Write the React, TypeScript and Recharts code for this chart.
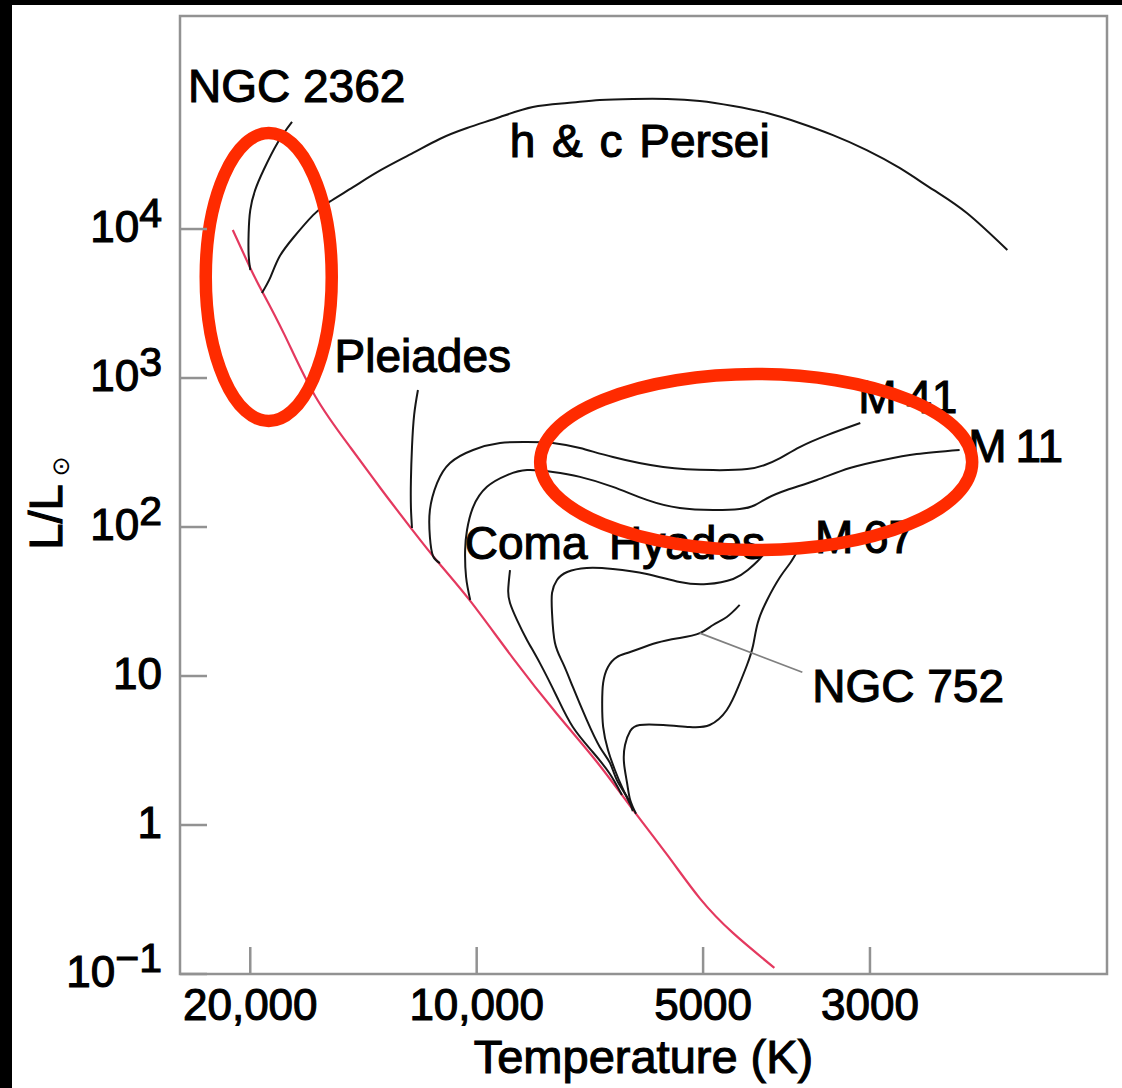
import React from "react";
import { LineChart, Line, XAxis, YAxis, ReferenceArea, ReferenceDot } from "recharts";

// Each point is [surface temperature in K, luminosity in solar units]
type Pt = [number, number];

const MAIN_SEQUENCE: Pt[] = [
  [21100, 9850], [20000, 5470], [19300, 3840], [18000, 1940], [16400, 757],
  [14700, 339], [13400, 180], [12200, 96.9], [11200, 56.4], [10200, 31.9],
  [8950, 13.2], [7820, 5.56], [6920, 2.65], [6250, 1.34], [5580, 0.630],
  [5050, 0.322], [4560, 0.188], [4020, 0.11],
];

const NGC_2362: Pt[] = [
  [20000, 5310], [20100, 6690], [20100, 9400], [20000, 13400], [19700, 18300],
  [19200, 24900], [18400, 37800], [17600, 52300],
];

const H_CHI_PERSEI: Pt[] = [
  [19300, 3720], [18800, 4760], [18300, 6490], [17500, 8840], [16500, 12400],
  [15700, 15200], [14600, 19100], [13400, 24900], [12150, 32400], [11200, 40200],
  [10300, 47600], [9310, 56500], [8420, 65900], [7580, 70100], [6860, 73400],
  [6200, 74600], [5580, 74600], [5050, 72300], [4560, 66900], [4110, 60000],
  [3720, 51500], [3360, 42700], [3030, 33900], [2740, 25700], [2470, 18300],
  [2230, 12800], [1970, 7230],
];

const PLEIADES: Pt[] = [
  [11970, 831], [12110, 565], [12190, 344], [12230, 207], [12230, 136], [12190, 98.5],
];

const M41: Pt[] = [
  [11190, 57.3], [11430, 63.9], [11540, 85.7], [11540, 130], [11290, 197],
  [10850, 269], [10110, 329], [9310, 366], [8570, 372], [7920, 366],
  [7290, 339], [6590, 295], [5650, 253], [4850, 241], [4370, 245],
  [4140, 261], [3950, 290], [3720, 344], [3420, 414], [3090, 499],
];

const M11: Pt[] = [
  [10200, 32.4], [10330, 46.2], [10360, 70.1], [10300, 95.5], [10110, 136],
  [9690, 186], [9110, 223], [8570, 241], [7920, 234], [7290, 217],
  [6590, 186], [5940, 152], [5370, 134], [4850, 130], [4470, 132],
  [4270, 140], [4110, 156], [3870, 177], [3530, 207], [3190, 249],
  [2880, 282], [2600, 309], [2280, 329],
];

const COMA: Pt[] = [
  [9030, 51.4], [9080, 37.8], [9030, 30.9], [8840, 23.8], [8570, 17.4],
  [8240, 12.2], [7820, 7.23], [7450, 4.55], [7010, 3.09], [6650, 2.2], [6410, 1.59],
];

const HYADES: Pt[] = [
  [4140, 66.9], [4230, 59.1], [4360, 51.4], [4560, 44.8], [4940, 41.4],
  [5370, 42.7], [5940, 48.4], [6590, 52.3], [7140, 53.1], [7580, 49.9],
  [7820, 44.1], [7940, 36.1], [7940, 26.5], [7870, 16.7], [7680, 12.2],
  [7450, 8.44], [7140, 5.07], [6860, 3.34], [6650, 2.61], [6510, 2.0],
  [6310, 1.54], [6200, 1.24],
];

const M67: Pt[] = [
  [3740, 70.1], [3830, 57.3], [3950, 46.2], [4110, 32.4], [4230, 22.7],
  [4290, 16.1], [4370, 11.9], [4490, 8.44], [4650, 5.91], [4900, 4.69],
  [5210, 4.55], [5650, 4.69], [6070, 4.69], [6250, 4.27], [6350, 3.44],
  [6370, 2.61], [6310, 1.91], [6250, 1.47], [6140, 1.19],
];

const NGC_752: Pt[] = [
  [4470, 30.0], [4650, 24.9], [4850, 22.0], [5050, 19.4], [5370, 18.0],
  [5760, 16.7], [6250, 14.5], [6510, 13.4], [6690, 11.5], [6790, 8.98],
  [6810, 6.59], [6790, 4.55], [6690, 3.19], [6550, 2.34], [6410, 1.80], [6250, 1.38],
];

// pointer from the NGC 752 label to its curve
const NGC_752_POINTER: Pt[] = [[5050, 19.4], [3690, 10.6]];

const CLUSTER_CURVES: { name: string; points: Pt[] }[] = [
  { name: "NGC 2362", points: NGC_2362 },
  { name: "h & c Persei", points: H_CHI_PERSEI },
  { name: "Pleiades", points: PLEIADES },
  { name: "M 41", points: M41 },
  { name: "M 11", points: M11 },
  { name: "Coma", points: COMA },
  { name: "Hyades", points: HYADES },
  { name: "M 67", points: M67 },
  { name: "NGC 752", points: NGC_752 },
];

// cluster names, anchored at [temperature, luminosity] of the text start
const CLUSTER_LABELS: { text: string; at: Pt }[] = [
  { text: "NGC 2362", at: [24200, 71200] },
  { text: "h & c Persei", at: [9040, 30400] },
  { text: "Pleiades", at: [15450, 1100] },
  { text: "Coma", at: [10370, 61.0] },
  { text: "Hyades", at: [6670, 61.0] },
  { text: "M 67", at: [3550, 66.9] },
  { text: "M 41", at: [3110, 582] },
  { text: "M 11", at: [2220, 273] },
  { text: "NGC 752", at: [3580, 6.69] },
];

// highlighted regions (centres)
const HIGHLIGHT_CENTERS: Pt[] = [[18900, 4760], [4250, 273]];

const TEMP_TICKS = [20000, 10000, 5000, 3000];
const TEMP_TICK_LABELS = ["20,000", "10,000", "5000", "3000"];
const LUM_TICKS = [0.1, 1, 10, 100, 1000, 10000];

const T_DOMAIN: [number, number] = [1452, 24800];
const L_DOMAIN: [number, number] = [0.1, 269000];

// ---- styling ----
const FONT = "'Liberation Sans', Arial, Helvetica, sans-serif";
const AXIS_GRAY = "#929292";
const CURVE_BLACK = "#161616";
const MS_RED = "#e4395f";
const HIGHLIGHT_RED = "#ff2b00";
const HIGHLIGHT_RADII = [
  { rx: 63, ry: 144 },
  { rx: 216, ry: 88 },
];
const TICK_LEN = 27;
const TEXT_STROKE = 1.1;
const LABEL_WORD_SPACING: Record<string, number> = {
  "h & c Persei": 4,
  "M 41": -3,
  "M 11": -4,
  "M 67": -3,
};

const rows = (pts: Pt[]) => pts.map(([t, l]) => ({ t, l }));

function LumTick(props: any) {
  const { x, y, payload } = props;
  const e = Math.round(Math.log10(payload.value));
  let content: React.ReactNode;
  if (e === 0) content = "1";
  else if (e === 1) content = "10";
  else
    content = (
      <>
        10
        <tspan dy={-15} fontSize={41}>
          {e < 0 ? "\u2212" + -e : String(e)}
        </tspan>
      </>
    );
  return (
    <g>
      <line x1={x} x2={x + TICK_LEN} y1={y} y2={y} stroke={AXIS_GRAY} strokeWidth={2.5} />
      <text
        x={x - 18}
        y={y + 13}
        textAnchor="end"
        fontFamily={FONT}
        fontSize={44}
        fill="#000"
        stroke="#000"
        strokeWidth={TEXT_STROKE}
      >
        {content}
      </text>
    </g>
  );
}

function TempTick(props: any) {
  const { x, y, payload } = props;
  const i = TEMP_TICKS.indexOf(payload.value);
  return (
    <g>
      <line x1={x} x2={x} y1={y} y2={y - TICK_LEN} stroke={AXIS_GRAY} strokeWidth={2.5} />
      <text
        x={x}
        y={y + 46}
        textAnchor="middle"
        fontFamily={FONT}
        fontSize={44}
        fill="#000"
        stroke="#000"
        strokeWidth={TEXT_STROKE}
      >
        {i >= 0 ? TEMP_TICK_LABELS[i] : payload.value}
      </text>
    </g>
  );
}

function XTitle(props: any) {
  const vb = props.viewBox || {};
  return (
    <text
      x={vb.x + vb.width / 2}
      y={vb.y + 99}
      textAnchor="middle"
      fontFamily={FONT}
      fontSize={47}
      fill="#000"
      stroke="#000"
      strokeWidth={TEXT_STROKE}
    >
      Temperature (K)
    </text>
  );
}

function YTitle(props: any) {
  const vb = props.viewBox || {};
  const cx = vb.x + 2;
  const cy = vb.y + vb.height / 2 + 8;
  return (
    <text
      transform={`rotate(-90, ${cx}, ${cy})`}
      x={cx}
      y={cy}
      textAnchor="middle"
      fontFamily={FONT}
      fontSize={47}
      fill="#000"
      stroke="#000"
      strokeWidth={TEXT_STROKE}
    >
      L/L
      <tspan fontSize={24} dy={7} dx={8} fontFamily="'DejaVu Sans', sans-serif" strokeWidth={0}>
        {"\u2299"}
      </tspan>
    </text>
  );
}

const labelShape = (text: string) => (p: any) => (
  <text
    x={p.cx}
    y={p.cy}
    fontFamily={FONT}
    fontSize={46}
    fill="#000"
    stroke="#000"
    strokeWidth={TEXT_STROKE}
    style={{ wordSpacing: `${LABEL_WORD_SPACING[text] ?? 0}px` }}
  >
    {text}
  </text>
);

const ellipseShape = (i: number) => (p: any) => (
  <ellipse
    cx={p.cx}
    cy={p.cy}
    rx={HIGHLIGHT_RADII[i].rx}
    ry={HIGHLIGHT_RADII[i].ry}
    fill="none"
    stroke={HIGHLIGHT_RED}
    strokeWidth={12.5}
  />
);

export default function App() {
  return (
    <div
      style={{
        position: "absolute",
        left: 0,
        top: 0,
        width: 1122,
        height: 1088,
        background: "#fff",
        overflow: "hidden",
      }}
    >
      <div style={{ position: "absolute", left: 0, top: 0, width: 1122, height: 5, background: "#000" }} />
      <div style={{ position: "absolute", left: 0, top: 0, width: 12, height: 1088, background: "#000" }} />
      <div style={{ position: "absolute", left: 0, top: 0 }}>
        <LineChart width={1122} height={1088} margin={{ top: 16, right: 15, bottom: 54, left: 60 }}>
          <XAxis
            type="number"
            dataKey="t"
            scale="log"
            domain={T_DOMAIN}
            allowDataOverflow
            reversed
            ticks={TEMP_TICKS}
            interval={0}
            tick={<TempTick />}
            tickSize={0}
            tickMargin={0}
            tickLine={false}
            axisLine={false}
            height={60}
            label={<XTitle />}
          />
          <YAxis
            type="number"
            dataKey="l"
            scale="log"
            domain={L_DOMAIN}
            allowDataOverflow
            ticks={LUM_TICKS}
            interval={0}
            tick={<LumTick />}
            tickSize={0}
            tickMargin={0}
            tickLine={false}
            axisLine={false}
            width={120}
            label={<YTitle />}
          />
          <ReferenceArea
            x1={T_DOMAIN[0]}
            x2={T_DOMAIN[1]}
            y1={L_DOMAIN[0]}
            y2={L_DOMAIN[1]}
            fill="none"
            fillOpacity={0}
            stroke={AXIS_GRAY}
            strokeWidth={2.5}
            ifOverflow="visible"
          />
          <Line
            data={rows(MAIN_SEQUENCE)}
            dataKey="l"
            type="natural"
            stroke={MS_RED}
            strokeWidth={2.2}
            dot={false}
            activeDot={false}
            isAnimationActive={false}
          />
          {CLUSTER_CURVES.map((c) => (
            <Line
              key={c.name}
              name={c.name}
              data={rows(c.points)}
              dataKey="l"
              type="natural"
              stroke={CURVE_BLACK}
              strokeWidth={2}
              dot={false}
              activeDot={false}
              isAnimationActive={false}
            />
          ))}
          <Line
            data={rows(NGC_752_POINTER)}
            dataKey="l"
            type="linear"
            stroke="#808080"
            strokeWidth={1.8}
            dot={false}
            activeDot={false}
            isAnimationActive={false}
          />
          {CLUSTER_LABELS.map((lab) => (
            <ReferenceDot
              key={lab.text}
              x={lab.at[0]}
              y={lab.at[1]}
              r={0}
              ifOverflow="visible"
              shape={labelShape(lab.text)}
            />
          ))}
          {HIGHLIGHT_CENTERS.map((c, i) => (
            <ReferenceDot
              key={"hl" + i}
              x={c[0]}
              y={c[1]}
              r={0}
              ifOverflow="visible"
              shape={ellipseShape(i)}
            />
          ))}
        </LineChart>
      </div>
    </div>
  );
}
